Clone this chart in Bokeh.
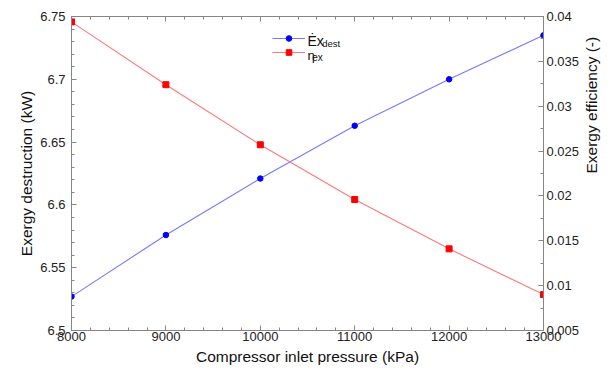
import math
from bokeh.plotting import figure
from bokeh.models import (Range1d, LinearAxis, SingleIntervalTicker, CustomJSTickFormatter,
                          Legend, LegendItem, Label)
from bokeh.embed import file_html
from bokeh.resources import INLINE

# ---- data ----
pressure = [8000, 9000, 10000, 11000, 12000, 13000]
ex_dest = [6.527, 6.576, 6.621, 6.663, 6.700, 6.735]
eta_ex = [0.0394, 0.0324, 0.0257, 0.0196, 0.0141, 0.0090]

x_title = "Compressor inlet pressure (kPa)"
y_title = "Exergy destruction (kW)"
y2_title = "Exergy efficiency (-)"

FONT = "Liberation Sans"
AXC = "#858585"

p = figure(width=612, height=376, output_backend="svg", toolbar_location=None,
           x_range=Range1d(8000, 13000), y_range=Range1d(6.5, 6.75),
           x_axis_type=None, y_axis_type=None,
           min_border_left=71, min_border_right=69, min_border_top=16, min_border_bottom=46)
p.extra_y_ranges = {"eff": Range1d(0.005, 0.04)}
p.xgrid.visible = False
p.ygrid.visible = False
p.outline_line_color = None
p.background_fill_color = "white"
p.border_fill_color = "white"

fmt = CustomJSTickFormatter(code="return String(Number(tick.toFixed(5)));")
blank = CustomJSTickFormatter(code="return '';")

def style(ax):
    ax.axis_line_color = AXC
    ax.major_tick_line_color = AXC
    ax.minor_tick_line_color = AXC
    ax.major_tick_in = 5
    ax.major_tick_out = 0
    ax.minor_tick_in = 3
    ax.minor_tick_out = 0
    ax.major_label_text_font = FONT
    ax.major_label_text_font_size = "13px"
    ax.major_label_text_color = "#222222"
    ax.axis_label_text_font = FONT
    ax.axis_label_text_font_size = "15.5px"
    ax.axis_label_text_font_style = "normal"
    ax.axis_label_text_color = "#111111"

xt = SingleIntervalTicker(interval=1000, num_minor_ticks=5)
xb = LinearAxis(ticker=xt, formatter=fmt, axis_label=x_title)
style(xb)
xb.major_label_standoff = 1
xb.axis_label_standoff = 4
p.add_layout(xb, "below")

xa = LinearAxis(ticker=xt, formatter=blank)
style(xa)
xa.major_label_standoff = 0
p.add_layout(xa, "above")

yl = LinearAxis(ticker=SingleIntervalTicker(interval=0.05, num_minor_ticks=5),
                formatter=fmt, axis_label=y_title)
style(yl)
yl.major_label_standoff = 6
yl.axis_label_standoff = 2
p.add_layout(yl, "left")

yr = LinearAxis(y_range_name="eff", ticker=SingleIntervalTicker(interval=0.005, num_minor_ticks=2),
                formatter=fmt, axis_label=y2_title)
style(yr)
yr.major_label_standoff = 3
yr.axis_label_standoff = 9
yr.axis_label_text_line_height = 1.0
if "axis_label_orientation" in LinearAxis.properties():
    yr.axis_label_orientation = math.pi / 2
p.add_layout(yr, "right")

bl = p.line(pressure, ex_dest, line_color="#7878ff", line_width=1.1)
bm = p.scatter(pressure, ex_dest, marker="circle", size=5.5, fill_color="#0000ff", line_color="#0000ff")
rl = p.line(pressure, eta_ex, y_range_name="eff", line_color="#ff7878", line_width=1.1)
rm = p.scatter(pressure, eta_ex, y_range_name="eff", marker="square", size=6,
               fill_color="#ff0000", line_color="#ff0000")

leg = Legend(items=[LegendItem(label=" ", renderers=[bl, bm]),
                    LegendItem(label=" ", renderers=[rl, rm])],
             location=(201, 271.5), glyph_width=33, glyph_height=14, label_height=14,
             label_width=0, label_standoff=0, padding=0, margin=0, spacing=0,
             border_line_color=None, background_fill_alpha=0,
             label_text_font_size="1px")
p.add_layout(leg, "center")

def lab(txt, x, y, size):
    p.add_layout(Label(x=x, y=y, x_units="screen", y_units="screen", text=txt,
                       text_font=FONT, text_font_size=size, text_color="#111111",
                       text_baseline="alphabetic", text_align="left"))

lab("\u0116x", 236, 289.3, "14px")
lab("dest", 250.7, 287.5, "9.5px")
lab("\u03b7", 236, 275.5, "13px")
lab("ex", 240.7, 273, "10px")

open("out.html", "w").write(file_html(p, INLINE))
